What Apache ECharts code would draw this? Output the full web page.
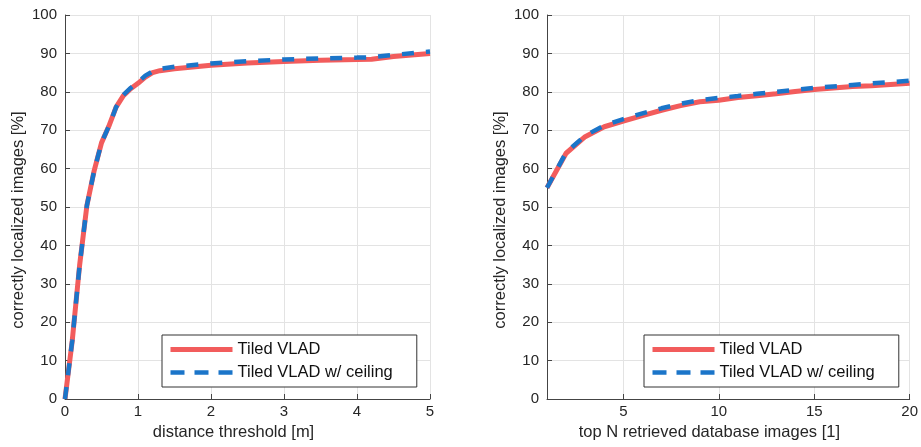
<!DOCTYPE html>
<html><head><meta charset="utf-8">
<script src="https://cdn.jsdelivr.net/npm/echarts@6/dist/echarts.min.js"></script>
<style>html,body{margin:0;padding:0;background:#fff}#c{width:921px;height:447px}</style>
</head><body><div id="c"></div>
<script>
// Left plot: distance threshold [m]
const distX      = [0, 0.1, 0.2, 0.3, 0.4, 0.5, 0.6, 0.7, 0.8, 0.9, 1.0, 1.1, 1.2, 1.3, 1.5, 2.0, 2.5, 3.0, 3.5, 4.0, 4.2, 4.5, 5.0];
const distTiled  = [0, 15.3, 34.8, 50.4, 59.5, 66.7, 71.0, 76.0, 79.0, 80.8, 82.2, 83.8, 85.0, 85.5, 86.0, 86.9, 87.5, 87.9, 88.2, 88.4, 88.5, 89.2, 90.0];
const distCeil   = [0, 15.3, 34.8, 50.4, 59.5, 66.7, 71.0, 76.0, 79.2, 81.0, 82.5, 84.2, 85.3, 86.0, 86.5, 87.4, 88.0, 88.4, 88.7, 88.9, 89.0, 89.6, 90.5];
// Right plot: top N retrieved database images
const topN       = [1, 2, 3, 4, 5, 6, 7, 8, 9, 10, 11, 12, 13, 14, 15, 16, 17, 18, 19, 20];
const topNTiled  = [55, 64.0, 68.3, 70.9, 72.4, 73.8, 75.2, 76.4, 77.4, 77.8, 78.5, 79.0, 79.5, 80.1, 80.6, 81.0, 81.4, 81.6, 81.9, 82.2];
const topNCeil   = [55, 64.2, 68.6, 71.2, 72.9, 74.4, 75.7, 76.9, 77.8, 78.4, 78.9, 79.5, 80.0, 80.5, 81.0, 81.4, 81.8, 82.2, 82.5, 82.9];
const seriesNames = ['Tiled VLAD', 'Tiled VLAD w/ ceiling'];
const xNames = ['distance threshold [m]', 'top N retrieved database images [1]'];
const yName = 'correctly localized images [%]';

const FONT = "'Liberation Sans', Arial, sans-serif";
const RED = '#f25c5c', BLUE = '#1b75c9';
const zip = (xs, ys) => xs.map((x, i) => [x, ys[i]]);
const tickLabel = {fontFamily: FONT, fontSize: 15, color: '#262626'};

function xAxis(idx, min, max, extra, labelExtra, shift) {
  return Object.assign({
    type: 'value', gridIndex: idx, min: min, max: max,
    name: xNames[idx], nameLocation: 'middle', nameGap: 25,
    nameTextStyle: {fontFamily: FONT, fontSize: 16.5, color: '#262626', padding: [0, shift, 0, 0]},
    axisLine: {show: true, onZero: false, lineStyle: {color: '#444', width: 1}},
    axisTick: {show: true, inside: true, length: 5, lineStyle: {color: '#444'}},
    axisLabel: Object.assign({margin: 5}, tickLabel, labelExtra || {}),
    splitLine: {show: true, lineStyle: {color: '#e3e3e3', width: 1}}
  }, extra);
}
function yAxis(idx) {
  return {
    type: 'value', gridIndex: idx, min: 0, max: 100, interval: 10,
    name: yName, nameLocation: 'middle', nameGap: 38, nameRotate: 90,
    nameTextStyle: {fontFamily: FONT, fontSize: 16.5, color: '#262626', padding: [0, 26, 0, 0]},
    axisLine: {show: true, onZero: false, lineStyle: {color: '#444', width: 1}},
    axisTick: {show: true, inside: true, length: 5, lineStyle: {color: '#444'}},
    axisLabel: Object.assign({margin: 8}, tickLabel),
    splitLine: {show: true, lineStyle: {color: '#e3e3e3', width: 1}}
  };
}
function legend(idx, left) {
  const suffix = idx ? '\u200b' : '';
  return {
    left: left, top: 335, orient: 'vertical',
    data: [
      {name: seriesNames[0] + suffix, lineStyle: {width: 5, color: RED, type: 'solid'}},
      {name: seriesNames[1] + suffix, lineStyle: {width: 4.5, color: BLUE, type: [14, 10]}}
    ],
    itemWidth: 62, itemHeight: 14, itemGap: 6,
    padding: [6, 24, 6, 6], borderColor: '#333', borderWidth: 1,
    backgroundColor: '#fff',
    itemStyle: {opacity: 0},
    textStyle: {fontFamily: FONT, fontSize: 16.5, color: '#111'},
    selectedMode: false
  };
}
function line(name, data, xi, color, dashed) {
  return {
    type: 'line', name: name, xAxisIndex: xi, yAxisIndex: xi, data: data,
    symbol: 'none', showSymbol: false, animation: false,
    lineStyle: {color: color, width: dashed ? 4.5 : 5, type: dashed ? [12, 12] : 'solid', cap: 'butt'},
    itemStyle: {color: color}
  };
}

const chart = echarts.init(document.getElementById('c'), null, {renderer: 'canvas'});
chart.setOption({
  animation: false,
  grid: [
    {left: 65, right: 491, top: 15, bottom: 48},
    {left: 547, right: 10, top: 15, bottom: 48}
  ],
  xAxis: [
    xAxis(0, 0, 5, {interval: 1}, null, 28),
    xAxis(1, 1, 20, {splitNumber: 4}, {showMinLabel: false}, 38)
  ],
  yAxis: [yAxis(0), yAxis(1)],
  legend: [legend(0, 162), legend(1, 644)],
  series: [
    line(seriesNames[0], zip(distX, distTiled), 0, RED, false),
    line(seriesNames[1], zip(distX, distCeil), 0, BLUE, true),
    line(seriesNames[0] + '\u200b', zip(topN, topNTiled), 1, RED, false),
    line(seriesNames[1] + '\u200b', zip(topN, topNCeil), 1, BLUE, true)
  ]
});
</script></body></html>
